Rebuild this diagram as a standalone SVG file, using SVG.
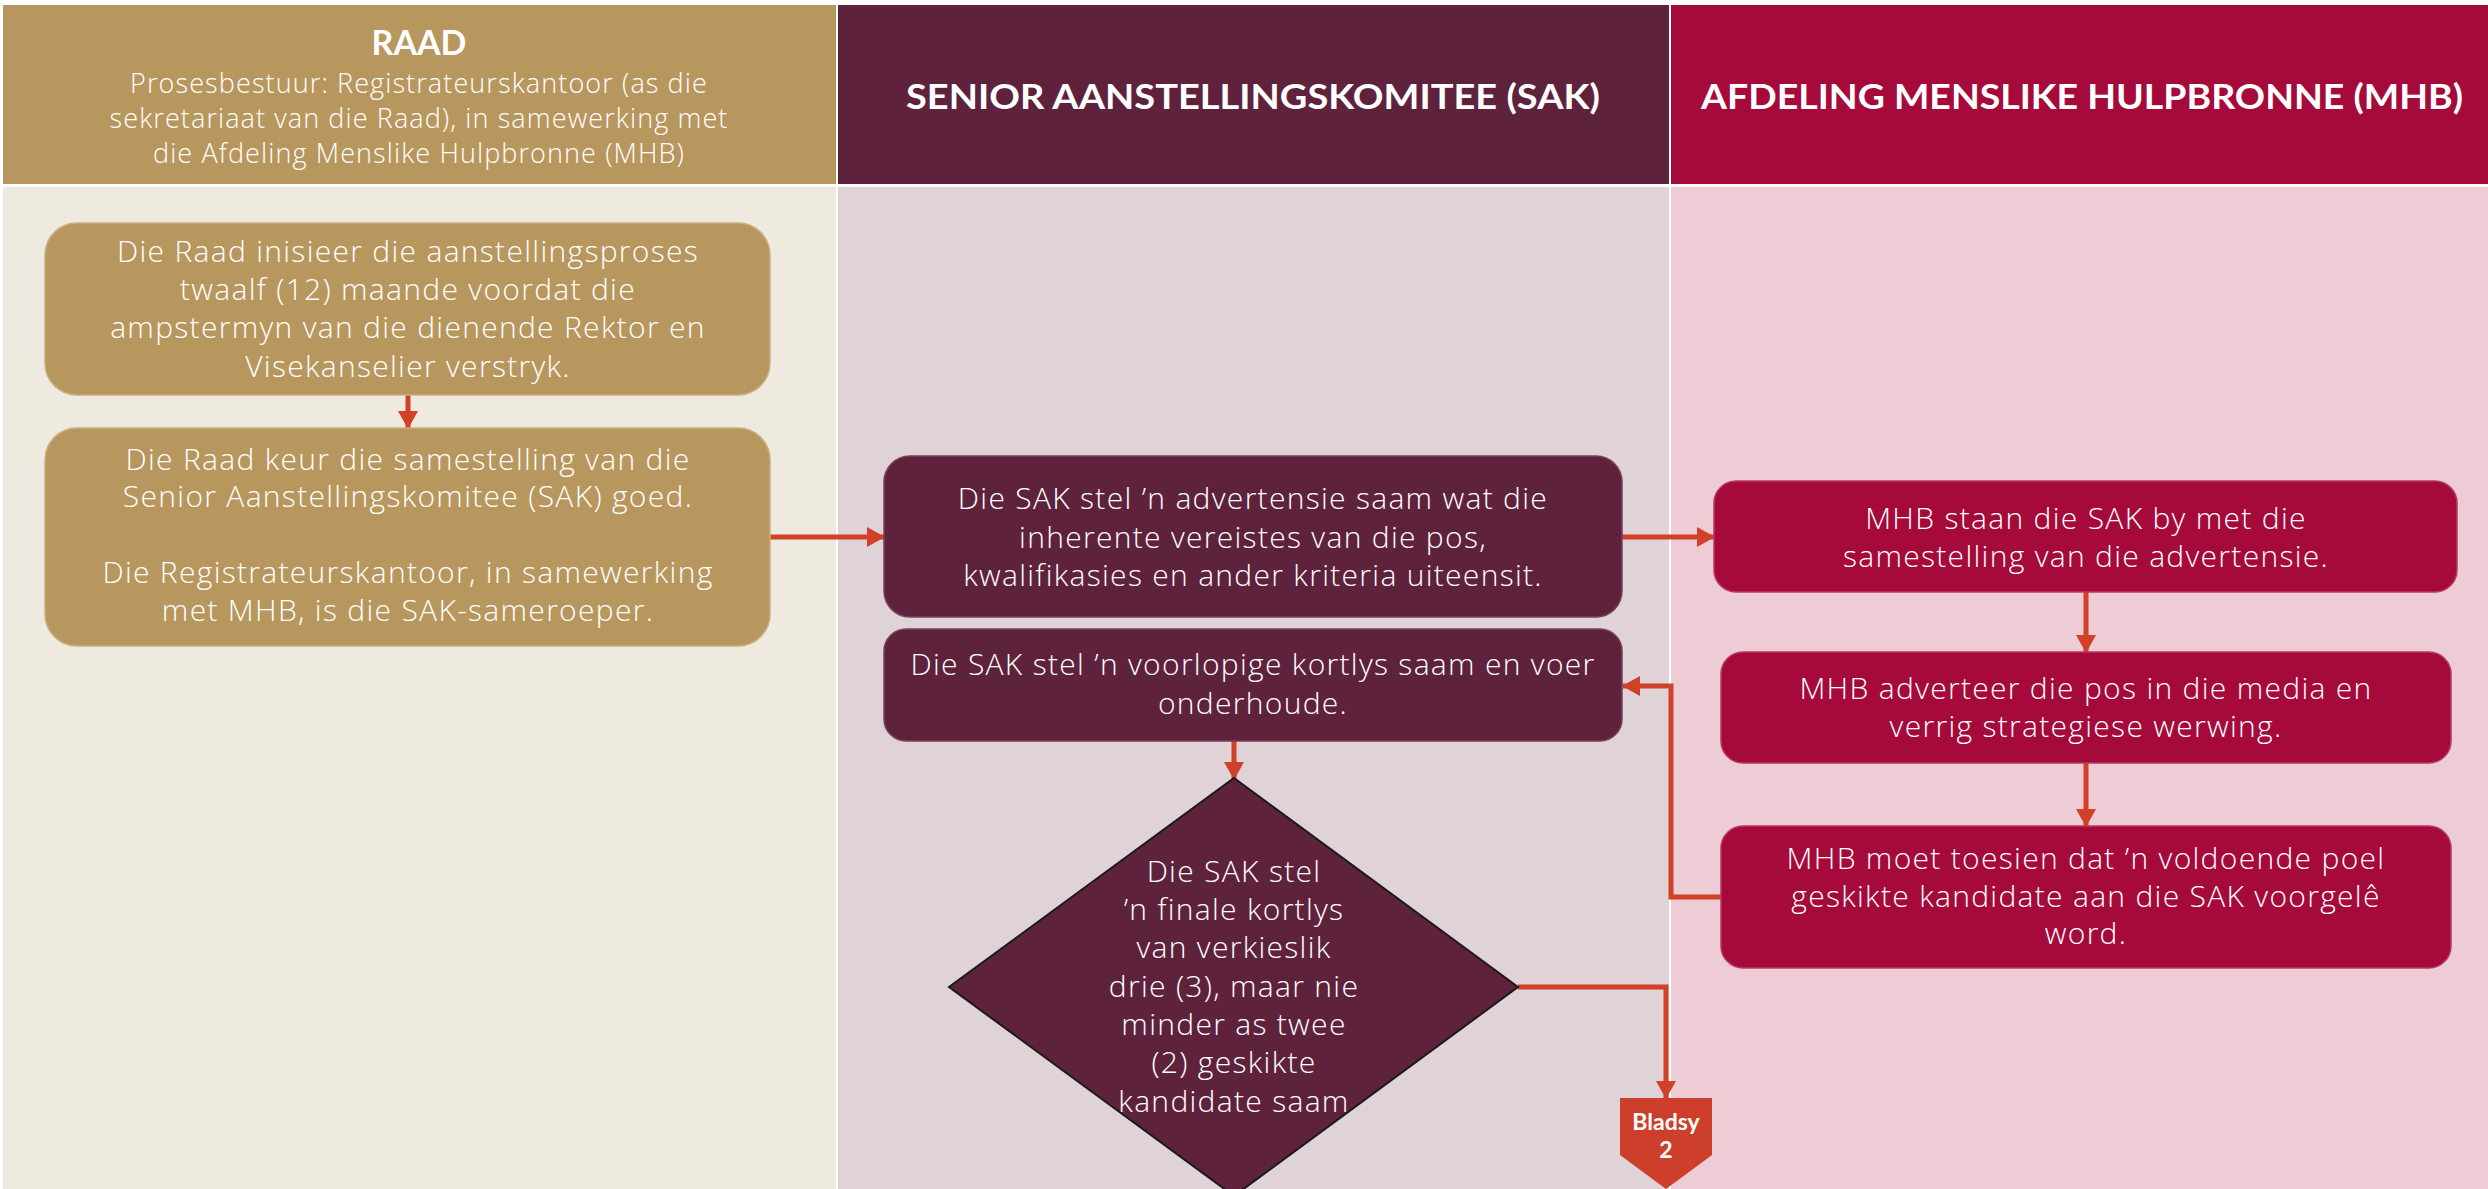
<svg xmlns="http://www.w3.org/2000/svg" width="2488" height="1189" viewBox="0 0 2488 1189">
<defs>
<style>
.t{font-family:"Open Sans","Lato","Liberation Sans",sans-serif;font-weight:300;font-size:30px;letter-spacing:1.3px;fill:#fff;text-anchor:middle}
.h{font-family:"Lato","Open Sans","Liberation Sans",sans-serif;font-weight:700;fill:#fff;text-anchor:middle}
.sub{font-family:"Open Sans","Lato","Liberation Sans",sans-serif;font-weight:300;font-size:27px;letter-spacing:1.1px;fill:#fff;text-anchor:middle}
.gold{fill:#B8975F;stroke:#C9AE7E;stroke-width:1.5}
.sak{fill:#5F223C;stroke:#7A4058;stroke-width:1.5}
.mhb{fill:#A50A3B;stroke:#B53A60;stroke-width:1.5}
.c{fill:none;stroke:#D04127;stroke-width:5}
</style>
<marker id="ah" markerUnits="userSpaceOnUse" markerWidth="18" markerHeight="20" refX="17" refY="10" orient="auto">
<path d="M0,0 L18,10 L0,20 z" fill="#D04127"/>
</marker>
</defs>
<rect x="0" y="0" width="2488" height="1189" fill="#fff"/>
<!-- lanes -->
<g id="lane-raad">
<rect x="3" y="5" width="833" height="179" fill="#B8975F"/>
<rect x="3" y="187" width="833" height="1002" fill="#EEEAE0"/>
<text class="h" x="419" y="55" font-size="34">RAAD</text>
<text class="sub" x="419" y="93">Prosesbestuur: Registrateurskantoor (as die</text>
<text class="sub" x="419" y="128">sekretariaat van die Raad), in samewerking met</text>
<text class="sub" x="419" y="163">die Afdeling Menslike Hulpbronne (MHB)</text>
</g>
<g id="lane-sak">
<rect x="838" y="5" width="831" height="179" fill="#5F223C"/>
<rect x="838" y="187" width="831" height="1002" fill="#DFD3D7"/>
<text class="h" x="1253" y="109" font-size="34" textLength="694" lengthAdjust="spacingAndGlyphs">SENIOR AANSTELLINGSKOMITEE (SAK)</text>
</g>
<g id="lane-mhb">
<rect x="1671" y="5" width="817" height="179" fill="#A50A3B"/>
<rect x="1671" y="187" width="817" height="1002" fill="#EDCCD5"/>
<text class="h" x="2082" y="109" font-size="34" textLength="762" lengthAdjust="spacingAndGlyphs">AFDELING MENSLIKE HULPBRONNE (MHB)</text>
</g>
<!-- connectors -->
<g id="connectors">
<line class="c" x1="408" y1="395" x2="408" y2="428" marker-end="url(#ah)"/>
<line class="c" x1="770" y1="537" x2="884" y2="537" marker-end="url(#ah)"/>
<line class="c" x1="1622" y1="537" x2="1714" y2="537" marker-end="url(#ah)"/>
<line class="c" x1="2086" y1="592" x2="2086" y2="652" marker-end="url(#ah)"/>
<line class="c" x1="2086" y1="763" x2="2086" y2="826" marker-end="url(#ah)"/>
<polyline class="c" points="1721,897 1671,897 1671,686 1623,686" marker-end="url(#ah)"/>
<line class="c" x1="1234" y1="741" x2="1234" y2="779" marker-end="url(#ah)"/>
<polyline class="c" points="1518,987 1666,987 1666,1098" marker-end="url(#ah)"/>
</g>
<!-- nodes -->
<g id="raad-1">
<rect class="gold" x="45" y="223" width="725" height="172" rx="32"/>
<text class="t" x="408" y="262">Die Raad inisieer die aanstellingsproses</text>
<text class="t" x="408" y="300">twaalf (12) maande voordat die</text>
<text class="t" x="408" y="338">ampstermyn van die dienende Rektor en</text>
<text class="t" x="408" y="377">Visekanselier verstryk.</text>
</g>
<g id="raad-2">
<rect class="gold" x="45" y="428" width="725" height="218" rx="32"/>
<text class="t" x="408" y="470">Die Raad keur die samestelling van die</text>
<text class="t" x="408" y="507">Senior Aanstellingskomitee (SAK) goed.</text>
<text class="t" x="408" y="583">Die Registrateurskantoor, in samewerking</text>
<text class="t" x="408" y="621">met MHB, is die SAK-sameroeper.</text>
</g>
<g id="sak-1">
<rect class="sak" x="884" y="456" width="738" height="161" rx="26"/>
<text class="t" x="1253" y="509">Die SAK stel ’n advertensie saam wat die</text>
<text class="t" x="1253" y="548">inherente vereistes van die pos,</text>
<text class="t" x="1253" y="586">kwalifikasies en ander kriteria uiteensit.</text>
</g>
<g id="sak-2">
<rect class="sak" x="884" y="629" width="738" height="112" rx="22"/>
<text class="t" x="1253" y="675">Die SAK stel ’n voorlopige kortlys saam en voer</text>
<text class="t" x="1253" y="714">onderhoude.</text>
</g>
<g id="sak-decision">
<polygon points="1234,778 1518,987 1234,1196 949,987" fill="#5F223C" stroke="#1a1a1a" stroke-width="2"/>
<text class="t" x="1234" y="882">Die SAK stel</text>
<text class="t" x="1234" y="920">’n finale kortlys</text>
<text class="t" x="1234" y="958">van verkieslik</text>
<text class="t" x="1234" y="997">drie (3), maar nie</text>
<text class="t" x="1234" y="1035">minder as twee</text>
<text class="t" x="1234" y="1073">(2) geskikte</text>
<text class="t" x="1234" y="1112">kandidate saam</text>
</g>
<g id="mhb-1">
<rect class="mhb" x="1714" y="481" width="743" height="111" rx="22"/>
<text class="t" x="2086" y="529">MHB staan die SAK by met die</text>
<text class="t" x="2086" y="567">samestelling van die advertensie.</text>
</g>
<g id="mhb-2">
<rect class="mhb" x="1721" y="652" width="730" height="111" rx="22"/>
<text class="t" x="2086" y="699">MHB adverteer die pos in die media en</text>
<text class="t" x="2086" y="737">verrig strategiese werwing.</text>
</g>
<g id="mhb-3">
<rect class="mhb" x="1721" y="826" width="730" height="142" rx="22"/>
<text class="t" x="2086" y="869">MHB moet toesien dat ’n voldoende poel</text>
<text class="t" x="2086" y="907">geskikte kandidate aan die SAK voorgelê</text>
<text class="t" x="2086" y="944">word.</text>
</g>
<g id="bladsy-2">
<polygon points="1620,1098 1712,1098 1712,1155 1666,1189 1620,1155" fill="#CD3F2A"/>
<text class="h" x="1666" y="1130" font-size="23">Bladsy</text>
<text class="h" x="1666" y="1158" font-size="23">2</text>
</g>
</svg>
